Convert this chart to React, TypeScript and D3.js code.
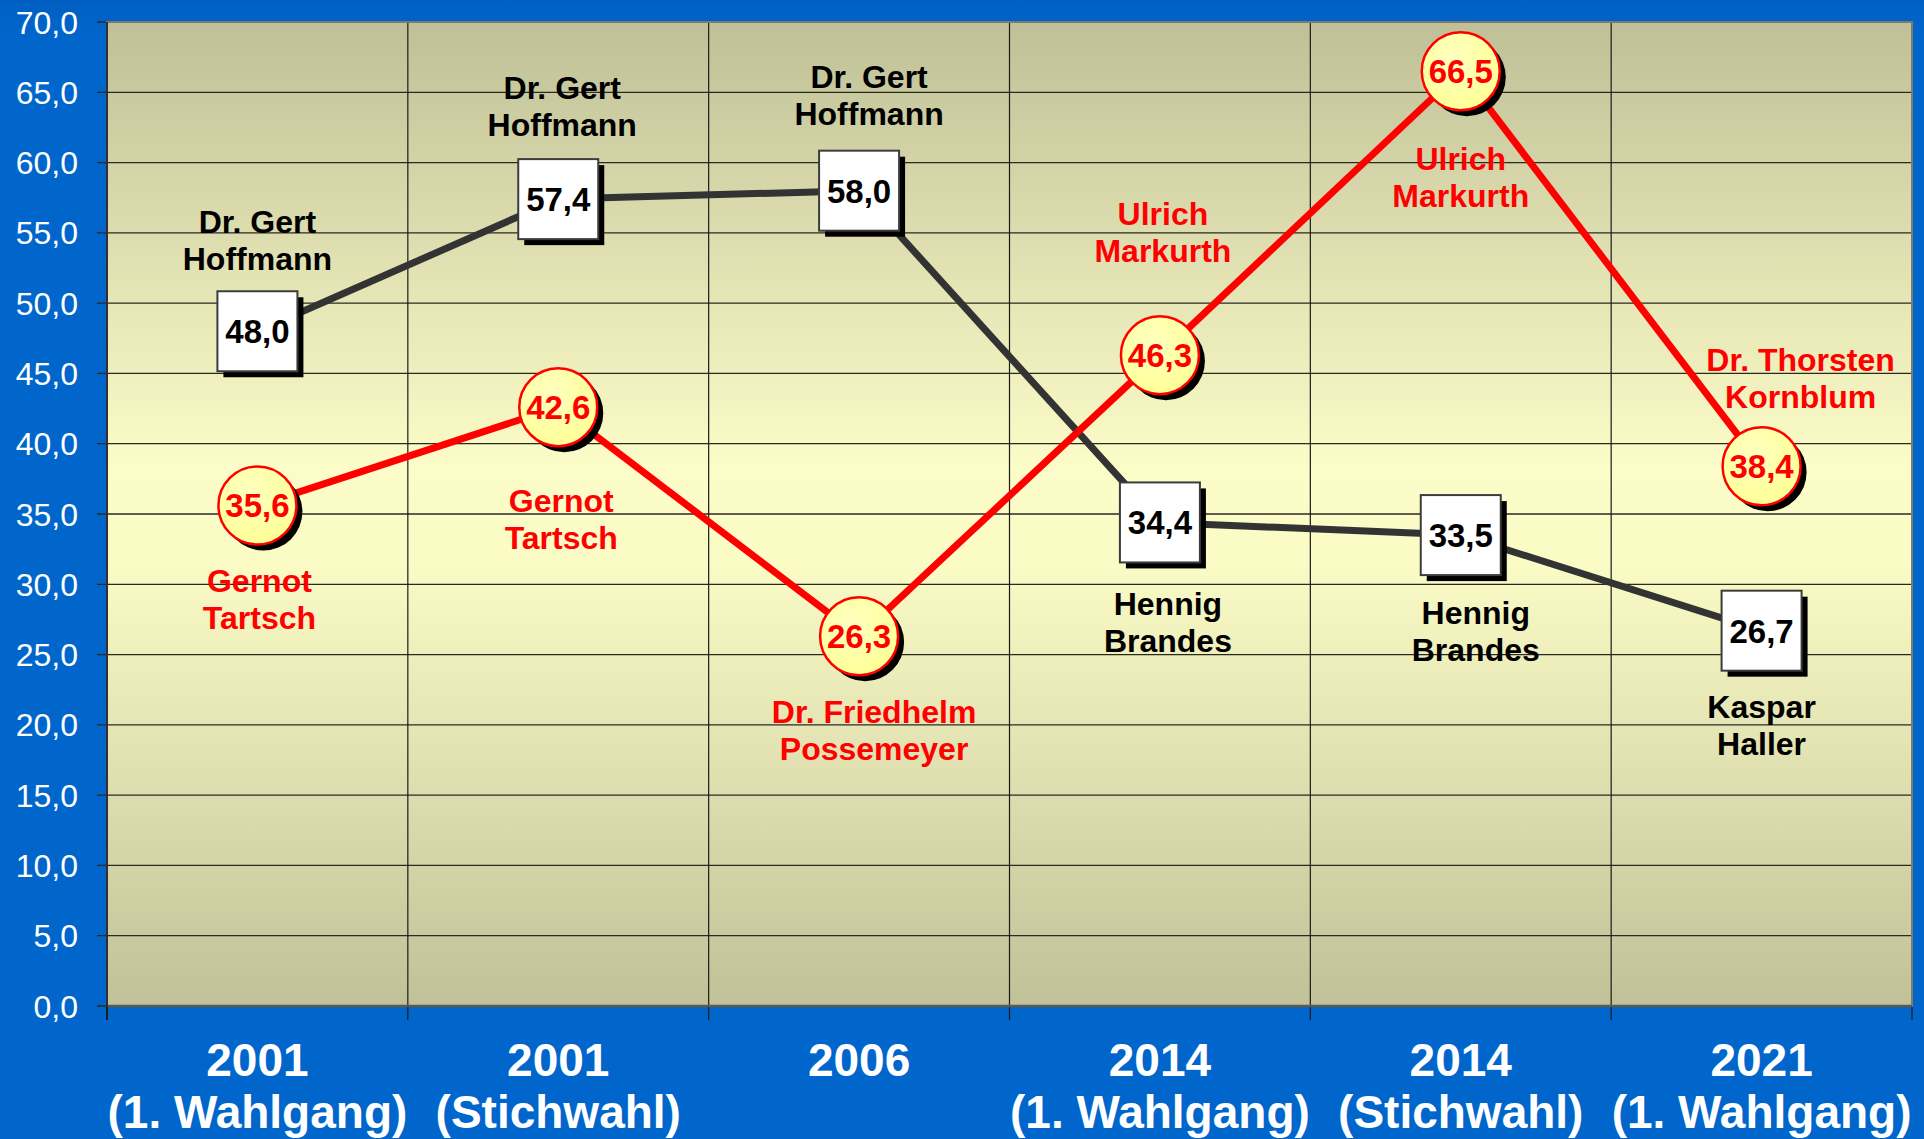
import React from "react";
import * as d3 from "d3";

const categories = [
  ["2001", "(1. Wahlgang)"],
  ["2001", "(Stichwahl)"],
  ["2006", ""],
  ["2014", "(1. Wahlgang)"],
  ["2014", "(Stichwahl)"],
  ["2021", "(1. Wahlgang)"],
];

const blackValues = [48.0, 57.4, 58.0, 34.4, 33.5, 26.7];
const blackNames = [
  ["Dr. Gert", "Hoffmann"],
  ["Dr. Gert", "Hoffmann"],
  ["Dr. Gert", "Hoffmann"],
  ["Hennig", "Brandes"],
  ["Hennig", "Brandes"],
  ["Kaspar", "Haller"],
];

const redValues = [35.6, 42.6, 26.3, 46.3, 66.5, 38.4];
const redNames = [
  ["Gernot", "Tartsch"],
  ["Gernot", "Tartsch"],
  ["Dr. Friedhelm", "Possemeyer"],
  ["Ulrich", "Markurth"],
  ["Ulrich", "Markurth"],
  ["Dr. Thorsten", "Kornblum"],
];

const yTicks = d3.range(0, 70.001, 5);

// layout: name-label offsets (px) relative to marker centre
const blackLabelDx = [0, 4, 10, 8, 15, 0];
const blackLabelDy = [-110, -112, -114, 81, 77, 76];
const redLabelDx = [2, 3, 15, 3, 0, 39];
const redLabelDy = [75, 93, 75, -142, 87, -107];

const W = 1924;
const H = 1139;
const M = { left: 107, right: 1912, top: 22, bottom: 1006 };
const FONT = "'Liberation Sans', Arial, Helvetica, sans-serif";

export default function App() {
  const x = d3
    .scaleBand<number>()
    .domain(d3.range(categories.length))
    .range([M.left, M.right])
    .paddingInner(0)
    .paddingOuter(0);
  const y = d3.scaleLinear().domain([0, 70]).range([M.bottom, M.top]);
  const cx = (i: number) => (x(i) as number) + x.bandwidth() / 2;
  const fmt = (v: number) => d3.format(".1f")(v).replace(".", ",");

  const line = d3
    .line<number>()
    .x((_, i) => cx(i))
    .y((v) => y(v));

  const lineH = 37;

  return (
    <svg
      width={W}
      height={H}
      style={{ position: "fixed", left: 0, top: 0, display: "block" }}
      fontFamily={FONT}
    >
      <defs>
        <linearGradient id="plotBg" x1="0" y1="0" x2="0" y2="1">
          <stop offset="0" stopColor="#C0C098" />
          <stop offset="0.45" stopColor="#FCFCC8" />
          <stop offset="0.55" stopColor="#FBFBC6" />
          <stop offset="1" stopColor="#C1C199" />
        </linearGradient>
        <linearGradient id="pageBg" x1="0" y1="0" x2="0" y2="1">
          <stop offset="0" stopColor="#005EC2" />
          <stop offset="0.03" stopColor="#0066CC" />
          <stop offset="1" stopColor="#0066CC" />
        </linearGradient>
        <radialGradient id="bubble" cx="0.4" cy="0.35" r="0.7">
          <stop offset="0" stopColor="#FFFFC0" />
          <stop offset="1" stopColor="#FFFF94" />
        </radialGradient>
      </defs>

      <rect x={0} y={0} width={W} height={H} fill="url(#pageBg)" />
      <rect
        x={M.left}
        y={M.top}
        width={M.right - M.left}
        height={M.bottom - M.top}
        fill="url(#plotBg)"
      />

      {/* horizontal gridlines */}
      {yTicks.map((t) => (
        <line
          key={"h" + t}
          x1={M.left - 10}
          x2={M.right}
          y1={y(t)}
          y2={y(t)}
          stroke="#2a2a20"
          strokeWidth={1.3}
        />
      ))}
      {/* vertical gridlines + bottom ticks */}
      {d3.range(categories.length + 1).map((i) => {
        const xv = M.left + i * x.bandwidth();
        return (
          <line
            key={"v" + i}
            x1={xv}
            x2={xv}
            y1={M.top}
            y2={M.bottom + 14}
            stroke="#1a1a1a"
            strokeWidth={1.2}
          />
        );
      })}
      {/* plot border */}
      <rect
        x={M.left}
        y={M.top}
        width={M.right - M.left}
        height={M.bottom - M.top}
        fill="none"
        stroke="#7a7a70"
        strokeWidth={2}
      />
      <line x1={M.left} x2={M.right} y1={M.bottom} y2={M.bottom} stroke="#5a5a50" strokeWidth={2.5} />
      <line x1={M.left} x2={M.left} y1={M.top} y2={M.bottom + 14} stroke="#1a1a1a" strokeWidth={1.5} />

      {/* y tick labels */}
      {yTicks.map((t) => (
        <text
          key={"yl" + t}
          x={78}
          y={y(t)}
          dy="0.36em"
          textAnchor="end"
          fill="#FFFFFF"
          fontSize={32}
        >
          {fmt(t)}
        </text>
      ))}

      {/* x labels */}
      {categories.map((c, i) => (
        <g key={"xl" + i} fill="#FFFFFF" fontSize={46} fontWeight="bold" textAnchor="middle">
          <text x={cx(i)} y={1076}>
            {c[0]}
          </text>
          {c[1] && (
            <text x={cx(i)} y={1128}>
              {c[1]}
            </text>
          )}
        </g>
      ))}

      {/* lines */}
      <path d={line(blackValues) || ""} fill="none" stroke="#333333" strokeWidth={7} strokeLinejoin="round" />
      <path d={line(redValues) || ""} fill="none" stroke="#FF0000" strokeWidth={7} strokeLinejoin="round" />

      {/* black markers */}
      {blackValues.map((v, i) => (
        <g key={"bm" + i}>
          <rect x={cx(i) - 40 + 6} y={y(v) - 40 + 6} width={80} height={80} fill="#000" />
          <rect
            x={cx(i) - 40}
            y={y(v) - 40}
            width={80}
            height={80}
            fill="#FFFFFF"
            stroke="#3c3c3c"
            strokeWidth={2}
          />
          <text
            x={cx(i)}
            y={y(v)}
            dy="0.36em"
            textAnchor="middle"
            fontSize={33}
            fontWeight="bold"
            fill="#000"
          >
            {fmt(v)}
          </text>
        </g>
      ))}

      {/* red markers */}
      {redValues.map((v, i) => (
        <g key={"rm" + i}>
          <circle cx={cx(i) + 6} cy={y(v) + 6} r={39} fill="#000" />
          <circle cx={cx(i)} cy={y(v)} r={39} fill="url(#bubble)" stroke="#FF0000" strokeWidth={2.5} />
          <text
            x={cx(i)}
            y={y(v)}
            dy="0.36em"
            textAnchor="middle"
            fontSize={33}
            fontWeight="bold"
            fill="#FF0000"
          >
            {fmt(v)}
          </text>
        </g>
      ))}

      {/* name labels */}
      {blackNames.map((n, i) => (
        <g key={"bn" + i} fontSize={32} fontWeight="bold" fill="#000" textAnchor="middle">
          {n.map((s, j) => (
            <text key={j} x={cx(i) + blackLabelDx[i]} y={y(blackValues[i]) + blackLabelDy[i] + j * lineH} dy="0.36em">
              {s}
            </text>
          ))}
        </g>
      ))}
      {redNames.map((n, i) => (
        <g key={"rn" + i} fontSize={32} fontWeight="bold" fill="#FF0000" textAnchor="middle">
          {n.map((s, j) => (
            <text key={j} x={cx(i) + redLabelDx[i]} y={y(redValues[i]) + redLabelDy[i] + j * lineH} dy="0.36em">
              {s}
            </text>
          ))}
        </g>
      ))}
    </svg>
  );
}
